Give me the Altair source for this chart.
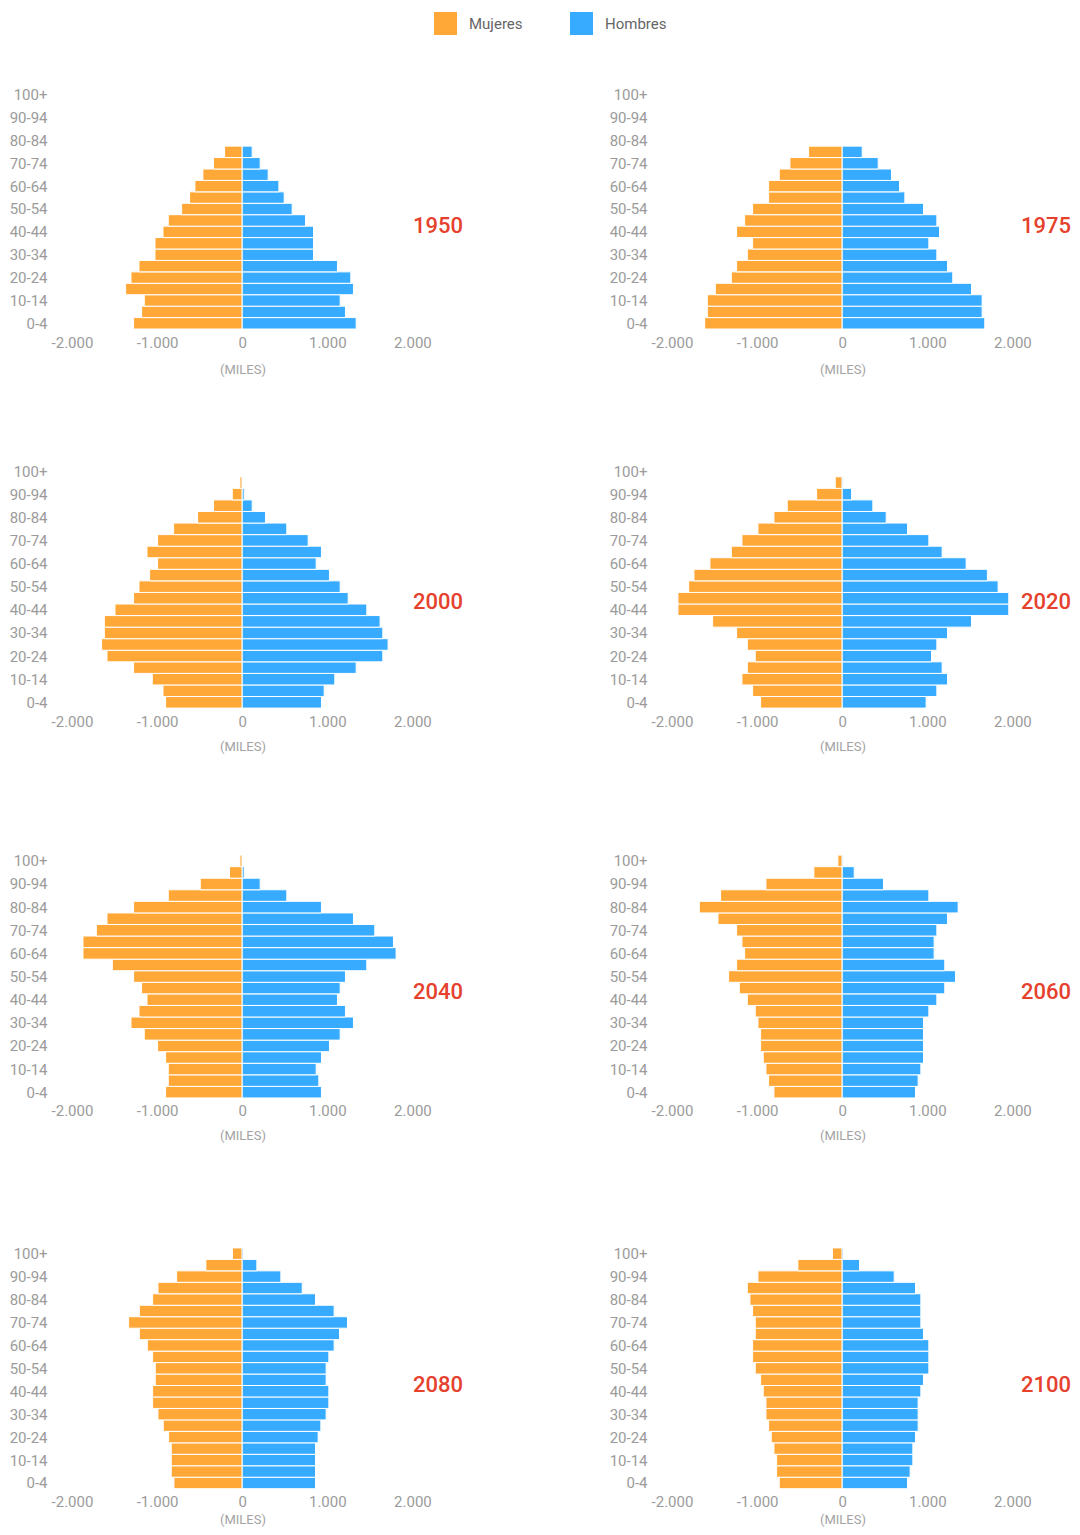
import json
import altair as alt
import pandas as pd

AGES = ["0-4", "5-9", "10-14", "15-19", "20-24", "25-29", "30-34", "35-39",
        "40-44", "45-49", "50-54", "55-59", "60-64", "65-69", "70-74", "75-79",
        "80-84", "85-89", "90-94", "95-99", "100+"]
YEARS = ["1950", "1975", "2000", "2020", "2040", "2060", "2080", "2100"]
SEXES = ["Mujeres", "Hombres"]

# thousands of people, from age 0-4 upward
women_1950 = [1276, 1182, 1151, 1370, 1307, 1213, 1025, 1025, 931, 869, 712, 618, 556, 462, 337, 207, 0, 0, 0, 0, 0]
men_1950 = [1339, 1213, 1151, 1307, 1276, 1119, 838, 838, 838, 744, 587, 493, 431, 305, 211, 117, 0, 0, 0, 0, 0]
women_1975 = [1616, 1585, 1585, 1491, 1303, 1241, 1115, 1053, 1241, 1147, 1053, 865, 865, 740, 614, 395, 0, 0, 0, 0, 0]
men_1975 = [1675, 1644, 1644, 1519, 1299, 1237, 1112, 1018, 1143, 1112, 955, 736, 673, 579, 423, 235, 0, 0, 0, 0, 0]
women_2000 = [900, 931, 1057, 1276, 1589, 1652, 1620, 1620, 1495, 1276, 1213, 1088, 994, 1119, 994, 806, 524, 337, 117, 27, 0]
men_2000 = [931, 963, 1088, 1339, 1652, 1714, 1652, 1620, 1464, 1245, 1151, 1025, 869, 931, 775, 524, 274, 117, 23, 5, 0]
women_2020 = [959, 1053, 1178, 1115, 1022, 1115, 1241, 1523, 1930, 1930, 1804, 1742, 1554, 1303, 1178, 990, 802, 646, 301, 82, 0]
men_2020 = [986, 1112, 1237, 1174, 1049, 1112, 1237, 1519, 1957, 1957, 1832, 1706, 1456, 1174, 1018, 767, 517, 360, 110, 10, 0]
women_2040 = [900, 869, 869, 900, 994, 1151, 1307, 1213, 1119, 1182, 1276, 1526, 1871, 1871, 1714, 1589, 1276, 869, 493, 149, 27]
men_2040 = [931, 900, 869, 931, 1025, 1151, 1307, 1213, 1119, 1151, 1213, 1464, 1808, 1777, 1558, 1307, 931, 524, 211, 23, 5]
women_2060 = [802, 865, 896, 928, 959, 959, 990, 1022, 1115, 1209, 1335, 1241, 1147, 1178, 1241, 1460, 1679, 1429, 896, 333, 51]
men_2060 = [861, 892, 924, 955, 955, 955, 955, 1018, 1112, 1205, 1331, 1205, 1080, 1080, 1112, 1237, 1362, 1018, 485, 141, 10]
women_2080 = [802, 834, 834, 834, 865, 928, 990, 1053, 1053, 1022, 1022, 1053, 1115, 1209, 1335, 1209, 1053, 990, 771, 427, 114]
men_2080 = [861, 861, 861, 861, 892, 924, 986, 1018, 1018, 986, 986, 1018, 1080, 1143, 1237, 1080, 861, 705, 454, 172, 16]
women_2100 = [740, 771, 771, 802, 834, 865, 896, 896, 928, 959, 1022, 1053, 1053, 1022, 1022, 1053, 1084, 1115, 990, 521, 114]
men_2100 = [767, 798, 830, 830, 861, 892, 892, 892, 924, 955, 1018, 1018, 1018, 955, 924, 924, 924, 861, 611, 204, 16]

X_TICKS = [-2000, -1000, 0, 1000, 2000]

SERIES = {
    "1950": (women_1950, men_1950), "1975": (women_1975, men_1975),
    "2000": (women_2000, men_2000), "2020": (women_2020, men_2020),
    "2040": (women_2040, men_2040), "2060": (women_2060, men_2060),
    "2080": (women_2080, men_2080), "2100": (women_2100, men_2100),
}

rows = []
for yr in YEARS:
    w, m = SERIES[yr]
    for i, age in enumerate(AGES):
        rows.append({"year": yr, "sex": "Mujeres", "idx": i, "age": age, "value": w[i]})
        rows.append({"year": yr, "sex": "Hombres", "idx": i, "age": age, "value": m[i]})
df = pd.DataFrame(rows)
df = df[df["value"] > 0]

ORANGE = "#FFA838"
BLUE = "#36ABFF"
RED = "#E5412D"
GREY = "#9b9b9b"

ROW_STEP = [11.43, 11.565, 11.565, 11.465]
ROW_TOP = [7.085, 0.538, 1.65, 2.0]
ROW_TITLE_PAD = [12, 10, 10, 3]
PLOT_W = 400
X_DOMAIN = [-2000, 2700]
YEAR_X = [391, 399]

y_label_expr = json.dumps(AGES) + "[datum.value]"
x_label_expr = ("datum.value == 0 ? '0' : (datum.value < 0 ? '-' : '') + "
                "format(abs(datum.value) / 1000, 'd') + '.000'")


def panel(year, r, c):
    step = ROW_STEP[r]
    t = ROW_TOP[r]
    height = (21 + t) * step
    ysc = alt.Scale(domain=[-0.5, 20.5 + t], nice=False, zero=False)
    xsc = alt.Scale(domain=X_DOMAIN, nice=False, zero=False)
    sub = df[df["year"] == year]
    bars = alt.Chart(sub).transform_calculate(
        x0="datum.sex == 'Mujeres' ? -datum.value : 0",
        x1="datum.sex == 'Mujeres' ? 0 : datum.value",
        y0="datum.idx - 0.5",
        y1="datum.idx + 0.5",
    ).mark_rect(stroke="white", strokeWidth=1).encode(
        x=alt.X("x0:Q", scale=xsc, axis=alt.Axis(
            values=X_TICKS, labelExpr=x_label_expr, grid=False, domain=False,
            ticks=False, labelFlush=False, labelFontSize=15, labelColor=GREY,
            labelPadding=6, title="(MILES)", titleFontSize=13,
            titleFontWeight="normal", titleColor="#a3a3a3",
            titlePadding=ROW_TITLE_PAD[r], titleX=170.5,
            minExtent=22, maxExtent=22)),
        x2="x1:Q",
        y=alt.Y("y0:Q", scale=ysc, axis=alt.Axis(
            values=list(range(0, 21, 2)), labelExpr=y_label_expr, grid=False,
            domain=False, ticks=False, labelFontSize=15, labelColor=GREY,
            labelPadding=25, labelOverlap=False, title=None,
            minExtent=64, maxExtent=64)),
        y2="y1:Q",
        color=alt.Color("sex:N", scale=alt.Scale(domain=SEXES, range=[ORANGE, BLUE]),
                        legend=alt.Legend(
                            title=None, orient="none", direction="horizontal",
                            legendX=362, legendY=4, symbolType="square",
                            symbolSize=529, symbolStrokeWidth=0, symbolOpacity=1,
                            labelFontSize=15, labelColor="#666666", labelOffset=12,
                            columnPadding=47)),
    )
    year_y = (t + 0.5) * step + 131
    label = alt.Chart(pd.DataFrame({"year": [year]})).mark_text(
        color=RED, fontSize=22, fontWeight=500, align="right", baseline="middle"
    ).encode(text="year:N", x=alt.value(YEAR_X[c]), y=alt.value(year_y))
    return alt.layer(bars, label).properties(width=PLOT_W, height=height)


row_charts = []
for r in range(4):
    left = panel(YEARS[2 * r], r, 0)
    right = panel(YEARS[2 * r + 1], r, 1)
    row_charts.append(alt.hconcat(left, right, spacing=136).resolve_scale(y="shared"))

chart = alt.vconcat(*row_charts, spacing=82).resolve_scale(
    x="independent", y="independent", color="shared"
).properties(
    padding={"left": 0, "top": 0, "right": 0, "bottom": 0}
).configure(font="Roboto").configure_view(stroke=None)

chart.save("out.html", embed_options={"renderer": "svg", "actions": False})
